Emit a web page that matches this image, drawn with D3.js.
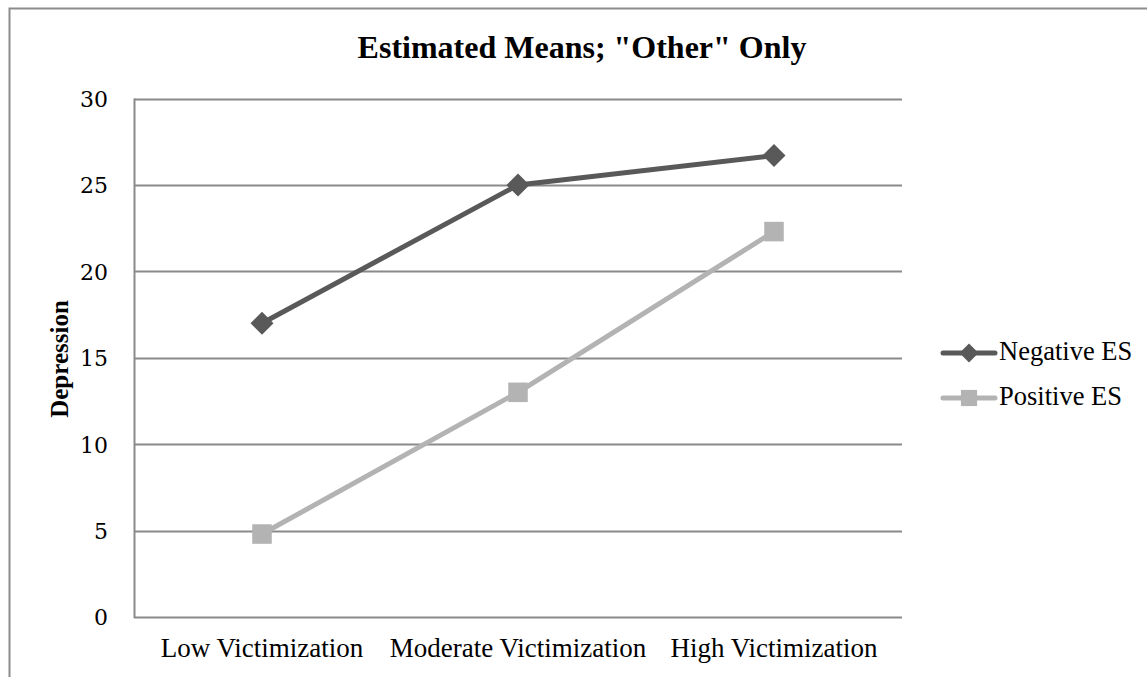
<!DOCTYPE html>
<html>
<head>
<meta charset="utf-8">
<script src="https://cdn.jsdelivr.net/npm/d3@7"></script>
<style>
  body { margin: 0; background: #fff; }
  text { font-family: "Liberation Serif", "Times New Roman", serif; fill: #000; }
</style>
</head>
<body>
<script>
var w = 1147;
var h = 677;

// data
var categories = ["Low Victimization", "Moderate Victimization", "High Victimization"];
var negativeES = [17.0, 25.0, 26.7];
var positiveES = [4.8, 13.0, 22.3];
var yTicks = [0, 5, 10, 15, 20, 25, 30];
var seriesNames = ["Negative ES", "Positive ES"];

var series = [
  { name: seriesNames[0], values: negativeES, color: "#595959", marker: "diamond" },
  { name: seriesNames[1], values: positiveES, color: "#b3b3b3", marker: "square" }
];

var svg = d3.select("body").append("svg")
  .attr("width", w)
  .attr("height", h);

// outer chart border (right and bottom run off the picture)
svg.append("rect")
  .attr("x", 9.5).attr("y", 8.5)
  .attr("width", 1150).attr("height", 700)
  .attr("fill", "none")
  .attr("stroke", "#8c8c8c")
  .attr("stroke-width", 2);

var pLeft = 134, pRight = 902, pTop = 98.5, pBottom = 617;

var x = d3.scaleBand().domain(categories).range([pLeft, pRight]);
var y = d3.scaleLinear().domain([0, 30]).range([pBottom, pTop]);

// gridlines
svg.append("g").selectAll("line")
  .data(yTicks)
  .enter().append("line")
  .attr("x1", pLeft).attr("x2", pRight)
  .attr("y1", function(d) { return Math.round(y(d)) + 0.5; })
  .attr("y2", function(d) { return Math.round(y(d)) + 0.5; })
  .attr("stroke", "#8a8a8a")
  .attr("stroke-width", 2);

// y axis line
svg.append("line")
  .attr("x1", pLeft + 0.5).attr("x2", pLeft + 0.5)
  .attr("y1", pTop).attr("y2", pBottom + 1)
  .attr("stroke", "#8a8a8a")
  .attr("stroke-width", 2);

// y tick labels
var yAxis = d3.axisLeft(y).tickValues(yTicks).tickSize(0).tickPadding(26);
var ya = svg.append("g")
  .attr("transform", "translate(" + pLeft + ",0)")
  .call(yAxis);
ya.select(".domain").remove();
ya.selectAll("text")
  .style("font-family", "'DejaVu Serif', 'Liberation Serif', serif")
  .style("font-size", "22px")
  .attr("dy", "0.36em");

// x tick labels
var xAxis = d3.axisBottom(x).tickSize(0).tickPadding(21);
var xa = svg.append("g")
  .attr("transform", "translate(0," + pBottom + ")")
  .call(xAxis);
xa.select(".domain").remove();
xa.selectAll("text")
  .style("font-family", "'Liberation Serif', serif")
  .style("font-size", "27px");

// title
svg.append("text")
  .attr("x", 582).attr("y", 58)
  .attr("text-anchor", "middle")
  .style("font-size", "32px")
  .style("font-weight", "bold")
  .text('Estimated Means; "Other" Only');

// y axis title
svg.append("text")
  .attr("transform", "translate(68,359) rotate(-90)")
  .attr("text-anchor", "middle")
  .style("font-size", "25px")
  .style("font-weight", "bold")
  .text("Depression");

var line = d3.line()
  .x(function(d, i) { return x(categories[i]) + x.bandwidth() / 2; })
  .y(function(d) { return y(d); });

function drawMarker(sel, type, color, r) {
  if (type == "diamond") {
    sel.append("path")
      .attr("d", "M0," + (-r) + "L" + r + ",0L0," + r + "L" + (-r) + ",0Z")
      .attr("fill", color);
  } else {
    var s = r * 0.85;
    sel.append("rect")
      .attr("x", -s).attr("y", -s)
      .attr("width", 2 * s).attr("height", 2 * s)
      .attr("fill", color);
  }
}

series.forEach(function(s) {
  svg.append("path")
    .datum(s.values)
    .attr("d", line)
    .attr("fill", "none")
    .attr("stroke", s.color)
    .attr("stroke-width", 5)
    .attr("stroke-linejoin", "round");

  s.values.forEach(function(v, i) {
    var g = svg.append("g")
      .attr("transform", "translate(" + (x(categories[i]) + x.bandwidth() / 2) + "," + y(v) + ")");
    drawMarker(g, s.marker, s.color, 11.5);
  });
});

// legend
var legend = svg.append("g");
series.forEach(function(s, i) {
  var ly = 353 + i * 45;
  legend.append("line")
    .attr("x1", 943).attr("x2", 995)
    .attr("y1", ly).attr("y2", ly)
    .attr("stroke", s.color)
    .attr("stroke-width", 5)
    .attr("stroke-linecap", "round");
  var g = legend.append("g").attr("transform", "translate(969," + ly + ")");
  drawMarker(g, s.marker, s.color, 9.5);
  legend.append("text")
    .attr("x", 999).attr("y", ly + 7)
    .style("font-size", "26.5px")
    .text(s.name);
});
</script>
</body>
</html>
